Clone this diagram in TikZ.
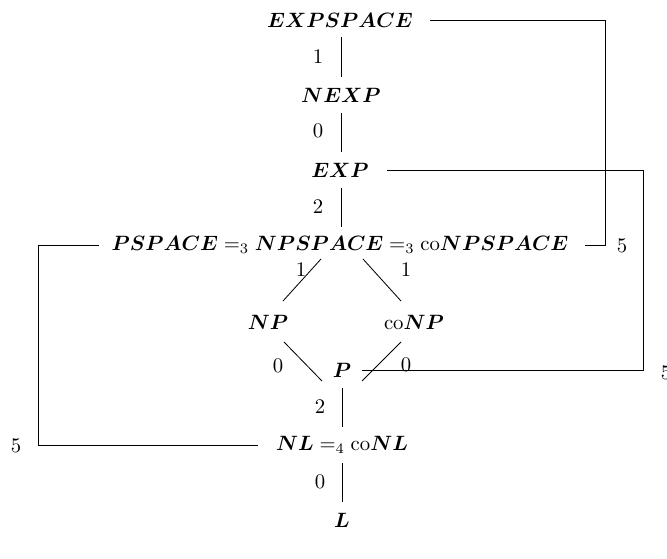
\documentclass[tikz,border=0pt]{standalone}
\usepackage{amsmath,bm}
\usetikzlibrary{calc}
\begin{document}
\begin{tikzpicture}[x=0.01695cm,y=-0.01695cm,
  cls/.style={inner sep=0pt},
  lbl/.style={inner sep=0pt},
  conn/.style={line width=0.4pt}]
\useasboundingbox (0,0) rectangle (667,559);
% class nodes
\node[cls] (exps) at (340,20)  {$\bm{EXPSPACE}$};
\node[cls] (nexp) at (341,95)  {$\bm{NEXP}$};
\node[cls] (exp)  at (340,170) {$\bm{EXP}$};
\node[cls] (ps)   at (340,245) {$\bm{PSPACE} =_3 \bm{NPSPACE} =_3 \mathrm{co}\bm{NPSPACE}$};
\node[cls] (np)   at (268,322) {$\bm{NP}$};
\node[cls] (conp) at (414,322) {$\mathrm{co}\bm{NP}$};
\node[cls] (p)    at (342,370) {$\bm{P}$};
\node[cls] (nl)   at (342,445) {$\bm{NL} =_4 \mathrm{co}\bm{NL}$};
\node[cls] (l)    at (342,520) {$\bm{L}$};
% vertical connectors
\draw[conn] (341,37) -- (341,77);
\draw[conn] (341,113) -- (341,152);
\draw[conn] (341,188) -- (341,227);
\draw[conn] (342,388) -- (342,427);
\draw[conn] (342,463) -- (342,502);
% diamond
\coordinate (a1) at (321,259); \coordinate (a2) at (283,301);
\coordinate (b1) at (363,259); \coordinate (b2) at (401,301);
\coordinate (c1) at (284,342); \coordinate (c2) at (322,381);
\coordinate (d1) at (401,342); \coordinate (d2) at (362,381);
\draw[conn] (a1) -- (a2);
\draw[conn] (b1) -- (b2);
\draw[conn] (c1) -- (c2);
\draw[conn] (d1) -- (d2);
% labels
\node[lbl] at (318,57) {1};
\node[lbl] at (318,131) {0};
\node[lbl] at (318,207) {2};
\node[lbl] at (301,270) {1};
\node[lbl] at (406,270) {1};
\node[lbl] at (278,366) {0};
\node[lbl] at (406,365) {0};
\node[lbl] at (320,407) {2};
\node[lbl] at (320,482) {0};
% brackets
\coordinate (r1) at (605,0);
\coordinate (r2) at (643,0);
\coordinate (r3) at (38,0);
\draw[conn] ($(exps.east)+(17,0)$) -- (exps.east -| r1) -- (ps.east -| r1) -- ($(ps.east)+(16,0)$);
\node[lbl] at (622,246) {5};
\draw[conn] ($(exp.east)+(18,0)$) -- (exp.east -| r2) -- (p.east -| r2) -- ($(p.east)+(10,0)$);
\node[lbl] at (666,373) {5};
\draw[conn] ($(ps.west)+(-12,0)$) -- (ps.west -| r3) -- (nl.west -| r3) -- ($(nl.west)+(-18,0)$);
\node[lbl] at (16,446) {5};
\end{tikzpicture}
\end{document}
